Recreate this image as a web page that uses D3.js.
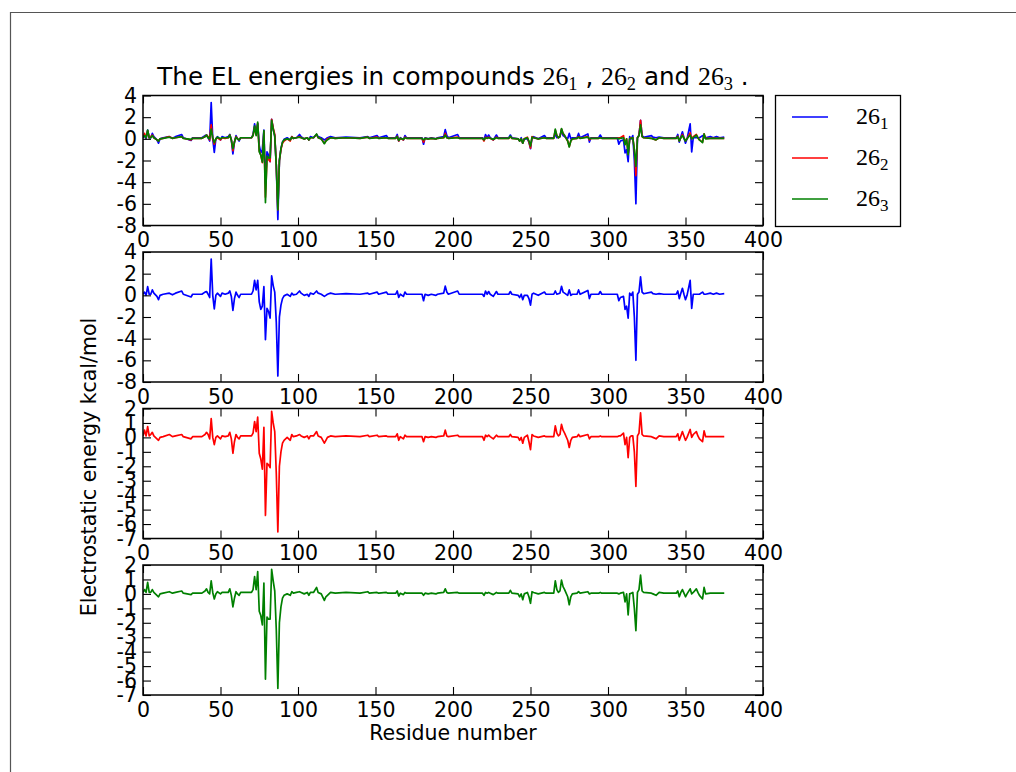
<!DOCTYPE html>
<html>
<head>
<meta charset="utf-8">
<script src="https://cdn.jsdelivr.net/npm/d3@7"></script>
<style>
  html, body { margin: 0; padding: 0; background: #fff; }
  svg { display: block; }
  text { font-family: "DejaVu Sans", sans-serif; }
</style>
</head>
<body>
<svg id="chart" width="1016" height="772"></svg>
<script>
// ---------------- data ----------------
const residues = [0,1,2,3,4,5,6,7,9,10,11,13,17,19,21,25,26,31,32,38,40,41,42,43,44,45,46,47,48,50,51,53,55,56,57,58,59,60,61,62,63,70,71,72,73,74,75,76,77,78,79,80,81,82,83,84,85,86,87,88,89,90,91,93,95,96,97,99,101,102,104,106,107,108,110,112,113,115,117,118,119,121,124,131,140,145,146,151,152,157,158,163,164,165,166,168,169,170,175,180,181,182,184,186,189,190,194,195,196,197,203,204,219,220,221,222,223,224,226,228,229,236,237,238,242,243,244,245,246,248,249,250,251,252,255,259,260,265,266,267,268,269,270,271,272,274,275,276,277,280,281,282,287,288,289,294,295,296,306,307,308,310,311,312,313,314,315,316,317,318,319,320,321,322,323,328,329,331,333,336,344,345,346,347,348,349,350,351,353,354,355,357,358,359,361,362,363,366,368,370,372,375];

const energy1 = [0.1,0.3,0.0,0.8,0.1,0.1,0.5,0.2,-0.1,-0.4,0.0,0.1,0.2,0.05,0.2,0.4,0.1,-0.15,0.1,0.1,0.3,0.35,0.1,-0.2,3.35,0.0,-1.25,0.0,0.2,-0.1,0.2,0.1,0.2,0.4,-0.1,-1.4,-0.3,0.3,0.0,-0.2,0.1,0.1,0.4,1.38,0.5,1.38,-0.6,-1.3,-1.0,0.8,-4.1,-1.2,-1.5,-2.1,1.8,0.9,0.3,-2.5,-7.45,-2.0,-0.9,-0.3,-0.05,0.1,-0.1,0.2,0.05,0.1,0.4,0.2,0.0,0.1,-0.1,0.2,0.1,0.4,0.2,0.1,-0.1,0.0,0.1,0.2,0.1,0.15,0.1,0.2,0.1,0.3,0.1,0.3,0.1,0.1,0.4,-0.2,0.1,-0.1,0.3,0.1,0.1,0.1,-0.5,0.1,0.0,0.1,0.0,0.1,0.2,0.85,0.3,0.1,0.4,0.1,0.1,-0.1,0.4,0.1,0.35,0.1,-0.1,0.35,0.1,0.1,0.35,0.1,0.0,-0.2,0.1,-0.4,0.0,0.0,-0.3,-0.9,0.1,0.2,0.0,0.3,0.1,0.1,0.4,0.1,0.15,0.2,0.83,0.3,0.2,0.0,0.5,0.0,0.1,0.1,0.5,0.1,0.45,-0.3,0.1,0.1,0.35,0.1,0.1,-0.5,-0.2,-0.1,-1.3,-1.0,-2.1,0.2,0.0,0.3,-2.0,-6.0,0.1,0.3,1.7,0.3,0.15,0.3,0.15,0.1,0.15,0.1,0.1,0.4,-0.3,0.2,0.65,0.1,-0.4,0.0,1.38,-1.2,0.1,0.1,0.1,0.1,0.3,0.1,0.1,0.2,0.1,0.2,0.1,0.15];

const energy2 = [0.1,0.5,0.1,0.75,0.1,0.2,0.35,0.1,-0.1,-0.2,0.0,0.05,0.2,0.05,0.1,0.2,0.05,-0.1,0.05,0.05,0.2,0.35,0.2,-0.1,1.3,0.0,-0.5,0.0,0.1,-0.1,0.1,0.05,0.1,0.35,-0.1,-1.1,-0.3,0.2,0.0,-0.1,0.1,0.1,0.3,1.1,0.4,1.4,-1.1,-1.5,-2.2,0.7,-5.4,-1.8,-1.9,-2.1,1.8,1.0,0.4,-2.5,-6.55,-2.0,-1.0,-0.4,-0.2,0.0,-0.2,0.2,0.05,0.1,0.2,0.1,0.0,0.1,-0.1,0.1,0.1,0.4,0.1,0.0,-0.4,-0.2,0.0,0.1,0.05,0.1,0.05,0.15,0.05,0.15,0.05,0.1,0.05,0.05,0.25,-0.2,0.05,-0.1,0.15,0.05,0.05,0.05,-0.3,0.05,0.0,0.05,0.0,0.05,0.1,0.5,0.1,0.05,0.15,0.05,0.05,-0.2,0.15,0.05,0.15,0.05,-0.1,0.15,0.05,0.05,0.2,0.05,0.0,-0.2,0.0,-0.4,0.0,0.15,-0.3,-0.85,0.2,0.1,0.0,0.1,0.05,0.05,0.8,0.3,0.1,0.2,0.9,0.5,0.3,-0.2,-0.7,-0.2,0.0,0.05,0.2,0.05,0.2,-0.1,0.05,0.05,0.1,0.05,0.05,0.1,0.1,0.3,-0.5,0.0,-1.4,0.0,0.1,0.1,-1.0,-3.4,0.1,0.3,1.7,0.2,0.1,0.05,0.0,-0.1,0.1,0.05,0.05,0.25,-0.2,0.1,0.4,0.1,-0.2,0.0,0.55,0.0,0.2,0.4,0.1,-0.1,-0.3,0.45,0.05,0.05,0.05,0.05,0.05,0.05];

const energy3 = [0.1,0.3,0.1,0.8,0.1,0.1,0.3,0.1,-0.1,-0.2,0.0,0.05,0.15,0.05,0.1,0.2,0.05,-0.05,0.05,0.05,0.2,0.35,0.1,0.0,0.9,0.1,-0.35,0.0,0.15,0.0,0.1,0.1,0.1,0.35,-0.1,-0.9,-0.3,0.15,0.0,-0.1,0.1,0.1,0.3,1.2,0.3,1.55,-1.2,-1.5,-2.15,0.75,-5.9,-1.6,-1.75,-1.75,1.7,0.9,0.2,-2.5,-6.55,-2.0,-0.9,-0.3,-0.1,0.0,-0.1,0.15,0.05,0.1,0.15,0.1,0.0,0.1,-0.1,0.1,0.1,0.45,0.1,0.0,-0.45,-0.2,-0.1,0.1,0.05,0.1,0.05,0.15,0.05,0.1,0.05,0.1,0.05,0.05,0.2,-0.15,0.05,-0.05,0.1,0.05,0.05,0.05,-0.1,0.05,0.0,0.05,0.0,0.05,0.1,0.35,0.1,0.05,0.1,0.05,0.05,-0.1,0.1,0.05,0.1,0.05,-0.05,0.1,0.05,0.05,0.25,0.05,0.0,-0.2,0.0,-0.4,0.0,0.1,-0.2,-0.65,0.15,0.1,0.0,0.1,0.05,0.05,0.9,0.3,0.1,0.2,0.95,0.5,0.3,-0.2,-0.75,-0.2,0.0,0.05,0.15,0.05,0.15,0.0,0.05,0.05,0.1,0.05,0.05,0.0,0.05,0.1,-0.55,0.0,-1.45,0.0,0.05,0.1,-1.0,-2.55,0.1,0.3,1.3,0.2,0.1,0.05,0.0,-0.1,0.1,0.05,0.05,0.2,-0.2,0.1,0.3,0.05,-0.2,0.0,0.35,0.0,0.1,0.35,0.1,-0.1,-0.35,0.45,0.0,0.05,0.05,0.05,0.05,0.05];

const seriesNames = ["26", "26", "26"];
const seriesSubs = ["1", "2", "3"];
const seriesColors = ["#0000ff", "#ff0000", "#008000"];
const xTicks = [0, 50, 100, 150, 200, 250, 300, 350, 400];
const yTicksWide = [-8, -6, -4, -2, 0, 2, 4];
const yTicksNarrow = [-7, -6, -5, -4, -3, -2, -1, 0, 1, 2];
const titleParts = ["The EL energies in compounds "];
const xLabel = "Residue number";
const yLabel = "Electrostatic energy kcal/mol";

// ---------------- layout ----------------
const svg = d3.select("#chart");
const W = 1016, H = 772;
const left = 143, right = 763;
const panelTop0 = 95.5, panelStep = 156.5, panelH = 130;
const FS = 20.5;
const TFS = 24.6;
const serif = "'Liberation Serif', serif";

const series = [energy1, energy2, energy3].map(vals => residues.map((r, i) => ({x: r, y: vals[i]})));

const panels = [
  {series: [0, 1, 2], domain: [-8, 4], ticks: yTicksWide},
  {series: [0], domain: [-8, 4], ticks: yTicksWide},
  {series: [1], domain: [-7, 2], ticks: yTicksNarrow},
  {series: [2], domain: [-7, 2], ticks: yTicksNarrow}
];

// outer frame lines of the picture
svg.append("line").attr("x1", 10).attr("x2", W).attr("y1", 12.5).attr("y2", 12.5)
  .attr("stroke", "#555").attr("stroke-width", 1.2);
svg.append("line").attr("x1", 10.5).attr("x2", 10.5).attr("y1", 12).attr("y2", H)
  .attr("stroke", "#555").attr("stroke-width", 1.2);

const x = d3.scaleLinear().domain([0, 400]).range([left, right]);
const fmt = d => String(d);

panels.forEach((p, pi) => {
  const top = panelTop0 + pi * panelStep;
  const bottom = top + panelH;
  const y = d3.scaleLinear().domain(p.domain).range([bottom, top]);
  const g = svg.append("g");

  const clipId = "clip" + pi;
  svg.append("clipPath").attr("id", clipId).append("rect")
    .attr("x", left).attr("y", top).attr("width", right - left).attr("height", panelH);

  const line = d3.line().x(d => x(d.x)).y(d => y(d.y));
  p.series.forEach(si => {
    g.append("path").datum(series[si])
      .attr("clip-path", `url(#${clipId})`)
      .attr("fill", "none")
      .attr("stroke", seriesColors[si])
      .attr("stroke-width", 1.7)
      .attr("stroke-linejoin", "round")
      .attr("d", line);
  });

  // axes (ticks inward)
  const axB = g.append("g").attr("transform", `translate(0,${bottom})`)
    .call(d3.axisBottom(x).tickValues(xTicks).tickFormat(fmt).tickSizeInner(-8).tickSizeOuter(0).tickPadding(7));
  const axT = g.append("g").attr("transform", `translate(0,${top})`)
    .call(d3.axisTop(x).tickValues(xTicks).tickFormat("").tickSizeInner(-8).tickSizeOuter(0));
  const axL = g.append("g").attr("transform", `translate(${left},0)`)
    .call(d3.axisLeft(y).tickValues(p.ticks).tickFormat(fmt).tickSizeInner(-8).tickSizeOuter(0).tickPadding(6));
  const axR = g.append("g").attr("transform", `translate(${right},0)`)
    .call(d3.axisRight(y).tickValues(p.ticks).tickFormat("").tickSizeInner(-8).tickSizeOuter(0));
  [axT, axR].forEach(a => a.selectAll("text").remove());
  [axB, axT, axL, axR].forEach(a => {
    a.select(".domain").remove();
    a.selectAll("line").attr("stroke", "#000").attr("stroke-width", 1.1);
    a.selectAll("text").attr("font-size", FS).attr("font-family", "DejaVu Sans").attr("fill", "#000");
  });
  axB.selectAll("text").attr("dy", "0.71em");

  g.append("rect").attr("x", left).attr("y", top).attr("width", right - left).attr("height", panelH)
    .attr("fill", "none").attr("stroke", "#000").attr("stroke-width", 1.5);
});

// title
const title = svg.append("text").attr("x", (left + right) / 2).attr("y", 85)
  .attr("text-anchor", "middle").attr("font-size", TFS).attr("fill", "#000");
function mathPiece(sel, base, sub, fs) {
  sel.append("tspan").style("font-family", serif).attr("font-size", fs * 1.05).text(base);
  sel.append("tspan").style("font-family", serif).attr("font-size", fs * 0.75).attr("dy", fs * 0.22).text(sub);
}
title.append("tspan").attr("font-size", TFS).text(titleParts[0]);
mathPiece(title, seriesNames[0], seriesSubs[0], TFS);
title.append("tspan").attr("font-size", TFS).attr("dy", -TFS * 0.22).text(" , ");
mathPiece(title, seriesNames[1], seriesSubs[1], TFS);
title.append("tspan").attr("font-size", TFS).attr("dy", -TFS * 0.22).text(" and ");
mathPiece(title, seriesNames[2], seriesSubs[2], TFS);
title.append("tspan").attr("font-size", TFS).attr("dy", -TFS * 0.22).text(" .");

// x label
svg.append("text").attr("x", (left + right) / 2).attr("y", 740)
  .attr("text-anchor", "middle").attr("font-size", FS).attr("fill", "#000").text(xLabel);

// y label
svg.append("text").attr("transform", `translate(96,${467}) rotate(-90)`)
  .attr("text-anchor", "middle").attr("font-size", FS).attr("fill", "#000").text(yLabel);

// legend
const lg = svg.append("g");
lg.append("rect").attr("x", 775.5).attr("y", 95.5).attr("width", 125).attr("height", 131)
  .attr("fill", "#fff").attr("stroke", "#000").attr("stroke-width", 1.3);
seriesColors.forEach((c, i) => {
  const yy = 117 + i * 41;
  lg.append("line").attr("x1", 792).attr("x2", 828).attr("y1", yy).attr("y2", yy)
    .attr("stroke", c).attr("stroke-width", 1.7);
  const t = lg.append("text").attr("x", 856).attr("y", yy + 7).attr("font-size", 24)
    .style("font-family", serif).attr("fill", "#000");
  t.append("tspan").style("font-family", serif).attr("font-size", 24).text(seriesNames[i]);
  t.append("tspan").style("font-family", serif).attr("font-size", 17).attr("dy", 5).text(seriesSubs[i]);
});
</script>
</body>
</html>
